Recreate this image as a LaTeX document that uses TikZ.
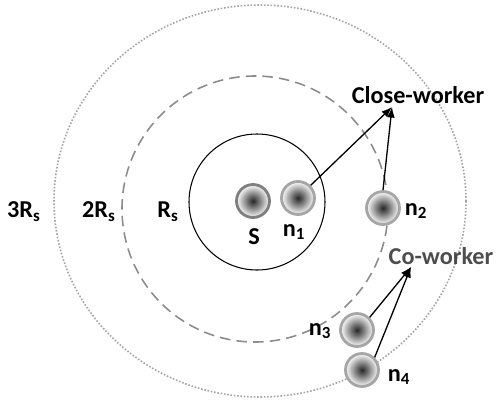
\documentclass[tikz,border=0pt]{standalone}
\usepackage{fontspec}
\setmainfont{Carlito}
\usepackage{tikz}
\usetikzlibrary{arrows.meta,positioning,calc}
\definecolor{Ring}{HTML}{A6A6A6}
\definecolor{RingS}{HTML}{7F7F7F}
\definecolor{Zone}{HTML}{8C8C8C}
\definecolor{CoText}{HTML}{4D4D4D}

\begin{document}
\begin{tikzpicture}[x=0.02cm, y=-0.02cm,
    every node/.style={font=\fontsize{13.8}{16}\selectfont\bfseries, align=center},
    sensor/.style={circle, minimum size=0.66cm, inner sep=0pt, draw=Ring, line width=1.6pt,
                   inner color=black!85, outer color=white},
    link/.style={line width=0.75pt, -{Latex[length=6pt,width=4.5pt]}}]
  \useasboundingbox (0,0) rectangle (497,400);
  % sensing zones
  \draw[Zone!80, densely dotted, line width=0.9pt] (260,201) ellipse [x radius=206, y radius=196];
  \draw[Zone, dash pattern=on 6pt off 3.5pt, line width=0.9pt] (255,209) circle [radius=133];
  \draw[black, line width=0.6pt] (257,202) circle [radius=68];
  \node (l3) at (24,212) {3R\textsubscript{s}};
  \node (l2) at (99,212) {2R\textsubscript{s}};
  \node (l1) at (168,212) {R\textsubscript{s}};
  % sink and nodes
  \node[sensor, draw=RingS] (s) at (253,201) {};
  \node[sensor] (n1) at (298,198) {};
  \node[sensor] (n2) at (383,208) {};
  \node[sensor] (n3) at (357,330) {};
  \node[sensor] (n4) at (362,370) {};
  \node (ls) at (254,237) {S};
  \node (l-n1) at (294,232) {n\textsubscript{1}};
  \node (l-n2) at (416,211) {n\textsubscript{2}};
  \node (l-n3) at (320,331) {n\textsubscript{3}};
  \node (l-n4) at (399,377) {n\textsubscript{4}};
  % worker groups
  \node (cw) at (418,95) {Close-worker};
  \node[text=CoText] (co) at (441,256) {Co-worker};
  \coordinate (cwtip) at (392,107);
  \coordinate (cotip) at (411,267);
  \draw[link] (n1.north east) -- (cwtip);
  \draw[link] (n2.north) -- (cwtip);
  \draw[link] (n3.north east) -- (cotip);
  \draw[link] (n4.north east) -- (cotip);
\end{tikzpicture}
\end{document}
